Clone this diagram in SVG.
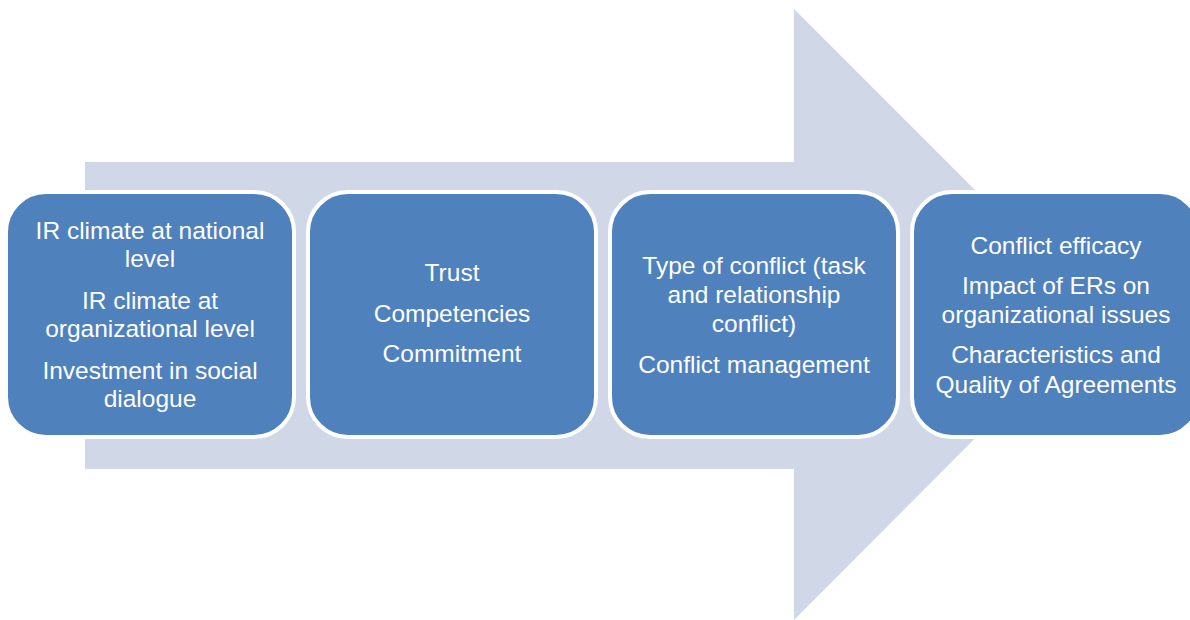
<svg xmlns="http://www.w3.org/2000/svg" width="1190" height="620" viewBox="0 0 1190 620">
<style>
.box{fill:#4F81BD;stroke:#FFFFFF;stroke-width:4}
.t{font-family:"Liberation Sans",Arial,sans-serif;font-size:24.5px;fill:#FFFFFF;text-anchor:middle}
</style>
<rect width="1190" height="620" fill="#FFFFFF"/>
<g id="arrow">
<polygon points="85,162 794,162 794,9 1099,314 794,620 794,469 85,469" fill="#D0D8E8"/>
</g>
<g id="node1">
<rect class="box" x="6" y="192" width="288" height="245" rx="40"/>
<text class="t" x="150" y="239">IR climate at national</text>
<text class="t" x="150" y="267">level</text>
<text class="t" x="150" y="309">IR climate at</text>
<text class="t" x="150" y="337">organizational level</text>
<text class="t" x="150" y="379">Investment in social</text>
<text class="t" x="150" y="407">dialogue</text>
</g>
<g id="node2">
<rect class="box" x="308" y="192" width="288" height="245" rx="40"/>
<text class="t" x="452" y="281">Trust</text>
<text class="t" x="452" y="322">Competencies</text>
<text class="t" x="452" y="362">Commitment</text>
</g>
<g id="node3">
<rect class="box" x="610" y="192" width="288" height="245" rx="40"/>
<text class="t" x="754" y="274">Type of conflict (task</text>
<text class="t" x="754" y="303">and relationship</text>
<text class="t" x="754" y="332">conflict)</text>
<text class="t" x="754" y="373">Conflict management</text>
</g>
<g id="node4">
<rect class="box" x="912" y="192" width="288" height="245" rx="40"/>
<text class="t" x="1056" y="254">Conflict efficacy</text>
<text class="t" x="1056" y="294">Impact of ERs on</text>
<text class="t" x="1056" y="323">organizational issues</text>
<text class="t" x="1056" y="363">Characteristics and</text>
<text class="t" x="1056" y="393">Quality of Agreements</text>
</g>
<g id="connectors"></g>
</svg>
